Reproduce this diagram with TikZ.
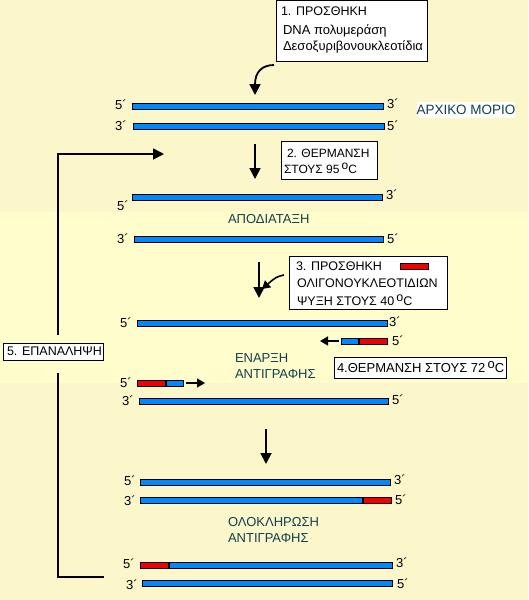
\documentclass[tikz,border=0pt]{standalone}
\usepackage{fontspec}
\setmainfont{Liberation Sans}
\usetikzlibrary{arrows.meta}
\definecolor{bgplain}{RGB}{255,253,204}
\definecolor{bgdot}{RGB}{251,247,202}
\definecolor{dnablue}{RGB}{0,136,255}
\definecolor{dnared}{RGB}{240,0,0}
\definecolor{tealtxt}{RGB}{16,64,80}
\begin{document}
\begin{tikzpicture}[x=1pt,y=-1pt,
  every node/.style={font=\fontsize{12.5}{14}\selectfont, inner sep=0pt, outer sep=0pt},
  lbl/.style={anchor=center, font=\fontsize{13}{14}\selectfont},
  txt/.style={anchor=west},
  teal/.style={text=tealtxt, anchor=west, font=\fontsize{13}{14}\selectfont},
  boxst/.style={draw=black, line width=1pt, fill=white, anchor=north west, inner sep=0pt},
  sb/.style={draw=black, line width=1pt, fill=dnablue},
  sr/.style={draw=black, line width=1pt, fill=dnared},
  bigarrow/.style={line width=1.8pt, -{Triangle[width=11pt,length=11pt]}},
  smallarrow/.style={line width=1.6pt, -{Triangle[width=9pt,length=8pt]}},
  fbline/.style={line width=1.8pt}
]
\fill[bgdot] (0,0) rectangle (528,600);
\fill[bgplain] (0,212) rectangle (528,383);
\useasboundingbox (0,0) rectangle (528,600);

% ---------- step 1 ----------
\node[boxst, minimum width=151pt, minimum height=61pt] (b1) at (276,0.5) {};
\node[txt] (t1a) at (281,11) {1. ΠΡΟΣΘΗΚΗ};
\node[txt, font=\fontsize{13}{14}\selectfont] (t1b) at (283,31) {DNA πολυμεράση};
\node[txt, font=\fontsize{13}{14}\selectfont] (t1c) at (283,47) {Δεσοξυριβονουκλεοτίδια};
\coordinate (c1s) at (274,65);
\coordinate (c1e) at (255,95);
\draw[bigarrow] (c1s) .. controls (262,65) and (255,72) .. (c1e);

\draw[sb] (132,103) rectangle (383,109);
\draw[sb] (133,123) rectangle (384,129);
\node[lbl] at (121,105) {5´};
\node[lbl] at (393,104) {3´};
\node[lbl] at (121,126) {3´};
\node[lbl] at (393,126) {5´};
\node[fill=white, text=tealtxt, font=\fontsize{13.5}{14}\selectfont, minimum width=96pt, minimum height=16pt] (orig) at (466,110) {ΑΡΧΙΚΟ ΜΟΡΙΟ};

% ---------- step 2 ----------
\coordinate (a2s) at (255,144);
\coordinate (a2e) at (255,179);
\draw[bigarrow] (a2s) -- (a2e);
\node[boxst, minimum width=96pt, minimum height=38pt] (b2) at (281,141) {};
\node[txt, font=\fontsize{12}{14}\selectfont] (t2a) at (287,153) {2. ΘΕΡΜΑΝΣΗ};
\node[txt, font=\fontsize{12}{14}\selectfont] (t2b) at (284,168) {ΣΤΟΥΣ 95\,\raisebox{4pt}{o}C};

\draw[sb] (132,194) rectangle (382,200);
\node[lbl] at (392,195) {3´};
\node[lbl] at (123,206) {5´};
\node[teal] (den) at (228,219) {ΑΠΟΔΙΑΤΑΞΗ};
\draw[sb] (134,236) rectangle (383,242);
\node[lbl] at (123,239) {3´};
\node[lbl] at (393,239) {5´};

% ---------- step 3 ----------
\coordinate (a3s) at (259,262);
\coordinate (a3e) at (259,298);
\draw[bigarrow] (a3s) -- (a3e);
\node[boxst, minimum width=158pt, minimum height=53pt] (b3) at (289,256) {};
\node[txt] (t3a) at (296,266) {3. ΠΡΟΣΘΗΚΗ};
\draw[sr] (400,263) rectangle (428,269);
\node[txt] (t3b) at (297,283) {ΟΛΙΓΟΝΟΥΚΛΕΟΤΙΔΙΩΝ};
\node[txt] (t3c) at (297,300) {ΨΥΞΗ ΣΤΟΥΣ 40\,\raisebox{4pt}{o}C};
\coordinate (c3s) at (284,275);
\coordinate (c3e) at (262,289);
\draw[smallarrow] (c3s) .. controls (276,277) .. (c3e);

\draw[sb] (137,320) rectangle (387,326);
\node[lbl] at (126,323) {5´};
\node[lbl] at (395,322) {3´};

\draw[sb] (341,338) rectangle (358,344);
\draw[sr] (359,338) rectangle (387,344);
\node[lbl] at (398,341) {5´};
\coordinate (p1s) at (339,341);
\coordinate (p1e) at (320,341);
\draw[smallarrow] (p1s) -- (p1e);

\node[teal] (ena1) at (235,358) {ΕΝΑΡΞΗ};
\node[teal] (ena2) at (235,374) {ΑΝΤΙΓΡΑΦΗΣ};

\node[boxst, minimum width=172pt, minimum height=21pt] (b4) at (334,357) {};
\node[txt, font=\fontsize{13}{14}\selectfont] (t4) at (337,367.5) {4.ΘΕΡΜΑΝΣΗ ΣΤΟΥΣ 72\,\raisebox{4pt}{o}C};

\draw[sr] (137,380) rectangle (165,386);
\draw[sb] (166,380) rectangle (183,386);
\node[lbl] at (126,383) {5´};
\coordinate (p2s) at (186,383);
\coordinate (p2e) at (205,383);
\draw[smallarrow] (p2s) -- (p2e);

\draw[sb] (139,398) rectangle (388,404);
\node[lbl] at (128,401) {3´};
\node[lbl] at (398,400) {5´};

% ---------- step 5 (repeat) ----------
\node[boxst, minimum width=100pt, minimum height=17pt] (b5) at (3,343) {};
\node[txt] (t5) at (7,351.5) {5. ΕΠΑΝΑΛΗΨΗ};
\coordinate (fb1) at (58,335);
\coordinate (fbTop) at (58,154);
\coordinate (fbTip) at (164,154);
\coordinate (fb2) at (58,373);
\coordinate (fbBot) at (58,577);
\coordinate (fbEnd) at (104,577);
\draw[fbline, -{Triangle[width=11pt,length=11pt]}] (fb1) -- (fbTop) -- (fbTip);
\draw[fbline] (fb2) -- (fbBot) -- (fbEnd);

% ---------- completion ----------
\coordinate (a4s) at (266,429);
\coordinate (a4e) at (266,464);
\draw[bigarrow] (a4s) -- (a4e);

\draw[sb] (140,479) rectangle (390,485);
\node[lbl] at (130,481) {5´};
\node[lbl] at (400,480) {3´};
\draw[sb] (140,497) rectangle (362,503);
\draw[sr] (363,497) rectangle (391,503);
\node[lbl] at (130,501) {3´};
\node[lbl] at (401,500) {5´};

\node[teal] (ol1) at (228,522) {ΟΛΟΚΛΗΡΩΣΗ};
\node[teal] (ol2) at (228,538) {ΑΝΤΙΓΡΑΦΗΣ};

\draw[sr] (140,562) rectangle (168,568);
\draw[sb] (169,562) rectangle (392,568);
\node[lbl] at (129,564) {5´};
\node[lbl] at (402,563) {3´};
\draw[sb] (142,580) rectangle (392,586);
\node[lbl] at (132,585) {3´};
\node[lbl] at (403,584) {5´};
\end{tikzpicture}
\end{document}
